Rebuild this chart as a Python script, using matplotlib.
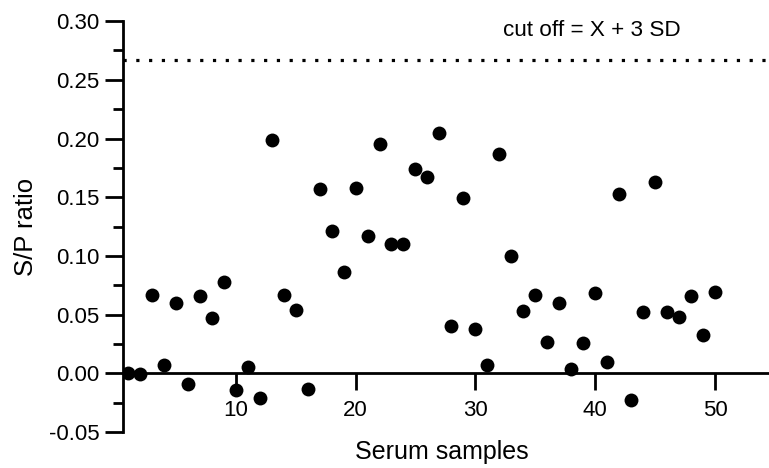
import matplotlib.pyplot as plt
from matplotlib.ticker import MultipleLocator
import numpy as np

plt.rcParams['font.family'] = ['Liberation Sans', 'DejaVu Sans']

# S/P ratio per serum sample
samples = np.arange(1, 51)
sp_ratio = [0.000, -0.001, 0.067, 0.007, 0.060, -0.009, 0.066, 0.047, 0.078, -0.014,
            0.005, -0.021, 0.199, 0.067, 0.054, -0.013, 0.157, 0.121, 0.086, 0.158,
            0.117, 0.195, 0.110, 0.110, 0.174, 0.167, 0.205, 0.040, 0.149, 0.038,
            0.007, 0.187, 0.100, 0.053, 0.067, 0.027, 0.060, 0.004, 0.026, 0.068,
            0.010, 0.153, -0.023, 0.052, 0.163, 0.052, 0.048, 0.066, 0.033, 0.069]
cutoff = 0.267

fig = plt.figure(figsize=(7.69, 4.68), dpi=100)
ax = fig.add_axes([0.16, 0.0769, 0.84, 0.878])

ax.scatter(samples, sp_ratio, s=100, color='black', zorder=3, linewidths=0)
ax.axhline(cutoff, color='black', linewidth=2.3, linestyle=(0, (1, 3.0)))
ax.text(39.7, 0.292, "cut off = X + 3 SD", fontsize=16.2, ha='center', va='center')

ax.set_xlim(0.6, 54.5)
ax.set_ylim(-0.05, 0.30)

ax.spines['top'].set_visible(False)
ax.spines['right'].set_visible(False)
ax.spines['bottom'].set_position(('data', 0))
ax.spines['left'].set_linewidth(2)
ax.spines['bottom'].set_linewidth(2)

ax.set_xticks([10, 20, 30, 40, 50])
ax.yaxis.set_major_locator(MultipleLocator(0.05))
ax.yaxis.set_minor_locator(MultipleLocator(0.025))
ax.set_yticklabels([f"{v:.2f}" for v in ax.get_yticks()])
ax.tick_params(axis='y', which='major', length=13, width=2, labelsize=16, pad=4)
ax.tick_params(axis='y', which='minor', length=7, width=2)
ax.tick_params(axis='x', which='major', length=12, width=2, labelsize=16, pad=7)

ax.set_ylabel("S/P ratio", fontsize=18.5, labelpad=8)
fig.text(0.574, 0.034, "Serum samples", fontsize=18, ha='center', va='center')

plt.savefig("out.png", dpi=100)
